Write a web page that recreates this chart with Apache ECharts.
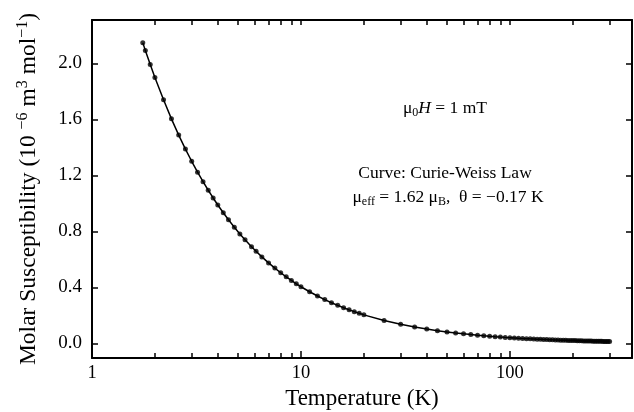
<!DOCTYPE html>
<html>
<head>
<meta charset="utf-8">
<script src="https://cdn.jsdelivr.net/npm/echarts@6/dist/echarts.min.js"></script>
<style>
html,body{margin:0;padding:0;background:#fff;}
#chart{width:634px;height:412px;}
</style>
</head>
<body>
<div id="chart"></div>
<script>
// Temperature (K) of each measured point
var temperature = [1.75,1.8,1.9,2.0,2.2,2.4,2.6,2.8,3.0,3.2,3.4,3.6,3.8,4.0,4.25,4.5,4.8,5.1,5.4,5.8,6.1,6.5,7.0,7.5,8.0,8.5,9.0,9.5,
  10,11,12,13,14,15,16,17,18,19,20,25,30,35,40,45,50,55,60,65,70,75,80,85,90,95,100,
  105,110,115,120,125,130,135,140,145,150,155,160,165,170,175,180,185,190,195,200,
  205,210,215,220,225,230,235,240,245,250,255,260,265,270,275,280,285,290,295,300];
// Molar susceptibility (10^-6 m^3 mol^-1)
var susceptibility = [2.147,2.093,1.992,1.900,1.740,1.604,1.488,1.388,1.301,1.223,1.155,1.094,1.039,0.989,0.933,0.883,0.830,0.782,0.740,0.691,0.658,0.618,0.575,0.538,0.505,0.476,0.450,0.426,
  0.405,0.369,0.339,0.313,0.291,0.272,0.255,0.240,0.227,0.215,0.204,0.164,0.137,0.117,0.103,0.0913,0.0822,0.0747,0.0685,0.0633,0.0588,0.0548,0.0514,0.0484,0.0457,0.0433,0.0412,
  0.0392,0.0374,0.0358,0.0343,0.0329,0.0317,0.0305,0.0294,0.0284,0.0274,0.0266,0.0257,0.0250,0.0242,0.0236,0.0229,0.0223,0.0217,0.0211,0.0206,
  0.0201,0.0196,0.0192,0.0187,0.0183,0.0179,0.0175,0.0172,0.0168,0.0165,0.0162,0.0159,0.0156,0.0153,0.0150,0.0147,0.0145,0.0142,0.0140,0.0137];
// Curie-Weiss fit curve values at the same temperatures
var curieWeiss = susceptibility.slice();

var xMajorTicks = [1,10,100];
var xMinorTicks = [2,3,4,5,6,7,8,9,20,30,40,50,60,70,80,90,200,300];
var yTicks = [0,0.4,0.8,1.2,1.6,2.0];

var FONT = '"Liberation Serif", "Times New Roman", serif';

function pairs(xs, ys){ var out=[]; for(var i=0;i<xs.length;i++) out.push([xs[i], ys[i]]); return out; }

var chart = echarts.init(document.getElementById('chart'), null, {renderer:'canvas'});
var lineStyleAxis = {color:'#000', width:2};

var option = {
  backgroundColor:'#fff',
  animation:false,
  grid:{left:92, right:2, top:20, bottom:54, containLabel:false, outerBoundsMode:'none'},
  xAxis:[
    {type:'log', logBase:10, min:1, max:384, position:'bottom',
     name:'Temperature (K)', nameLocation:'middle', nameGap:29,
     nameTextStyle:{fontFamily:FONT, fontSize:23, color:'#000'},
     axisLine:{show:true, onZero:false, lineStyle:lineStyleAxis},
     axisTick:{show:true, inside:true, length:7, customValues:xMajorTicks, lineStyle:{color:'#000', width:1.5}},
     axisLabel:{show:true, customValues:xMajorTicks, margin:6, fontFamily:FONT, fontSize:18.5, color:'#000'},
     splitLine:{show:false}, minorTick:{show:false}},
    {type:'log', logBase:10, min:1, max:384, position:'bottom',
     axisLine:{show:false, onZero:false},
     axisTick:{show:true, inside:true, length:5, customValues:xMinorTicks, lineStyle:{color:'#000', width:1.5}},
     axisLabel:{show:false}, splitLine:{show:false}},
    {type:'log', logBase:10, min:1, max:384, position:'top',
     axisLine:{show:true, onZero:false, lineStyle:lineStyleAxis},
     axisTick:{show:true, inside:true, length:5, customValues:xMajorTicks.concat(xMinorTicks), lineStyle:{color:'#000', width:1.5}},
     axisLabel:{show:false}, splitLine:{show:false}}
  ],
  yAxis:[
    {type:'value', min:-0.104, max:2.31, position:'left',
     name:'{n|Molar Susceptibility (10 }{sup|\u22126}{n| m}{sup|3}{n| mol}{sup|\u22121}{n|)}',
     nameLocation:'middle', nameGap:50, nameRotate:90,
     nameTextStyle:{fontFamily:FONT, fontSize:23.5, color:'#000',
       rich:{
         n:{fontFamily:FONT, fontSize:23.5, color:'#000', lineHeight:27},
         sup:{fontFamily:FONT, fontSize:16, color:'#000', lineHeight:16, verticalAlign:'top'}
       }},
     axisLine:{show:true, onZero:false, lineStyle:lineStyleAxis},
     axisTick:{show:true, inside:true, length:6, customValues:yTicks, lineStyle:{color:'#000', width:1.5}},
     axisLabel:{show:true, customValues:yTicks, margin:10, fontFamily:FONT, fontSize:19, color:'#000',
       formatter:function(v){return v.toFixed(1);}},
     splitLine:{show:false}},
    {type:'value', min:-0.104, max:2.31, position:'right',
     axisLine:{show:true, onZero:false, lineStyle:lineStyleAxis},
     axisTick:{show:true, inside:true, length:6, customValues:yTicks, lineStyle:{color:'#000', width:1.5}},
     axisLabel:{show:false}, splitLine:{show:false}}
  ],
  series:[
    {type:'line', name:'Curie-Weiss', xAxisIndex:0, yAxisIndex:0, data:pairs(temperature, curieWeiss),
     symbol:'none', smooth:false, lineStyle:{color:'#000', width:1.5}, z:2},
    {type:'scatter', name:'Measured', xAxisIndex:0, yAxisIndex:0, data:pairs(temperature, susceptibility),
     symbol:'circle', symbolSize:5, itemStyle:{color:'#000'}, z:3}
  ],
  graphic:[
    {type:'text', x:445, y:108, style:{
      text:'{m|\u03bc}{sub|0}{it|H}{m| = 1 mT}', align:'center', verticalAlign:'middle',
      font:'17.5px '+FONT, fill:'#000',
      rich:{m:{fontFamily:FONT, fontSize:17.5, lineHeight:22, fill:'#000', color:'#000'},
            it:{fontFamily:FONT, fontSize:17.5, fontStyle:'italic', lineHeight:22, fill:'#000', color:'#000'},
            sub:{fontFamily:FONT, fontSize:12, lineHeight:14, verticalAlign:'bottom', fill:'#000', color:'#000'}}
    }},
    {type:'text', x:445, y:173, style:{
      text:'Curve: Curie-Weiss Law', align:'center', verticalAlign:'middle',
      font:'17.5px '+FONT, fill:'#000'}},
    {type:'text', x:448, y:197, style:{
      text:'{m|\u03bc}{sub|eff}{m| = 1.62 \u03bc}{sub|B}{m|,  \u03b8 = \u22120.17 K}', align:'center', verticalAlign:'middle',
      font:'17.5px '+FONT, fill:'#000',
      rich:{m:{fontFamily:FONT, fontSize:17.5, lineHeight:22, fill:'#000', color:'#000'},
            sub:{fontFamily:FONT, fontSize:12, lineHeight:14, verticalAlign:'bottom', fill:'#000', color:'#000'}}
    }}
  ]
};
chart.setOption(option);
</script>
</body>
</html>
